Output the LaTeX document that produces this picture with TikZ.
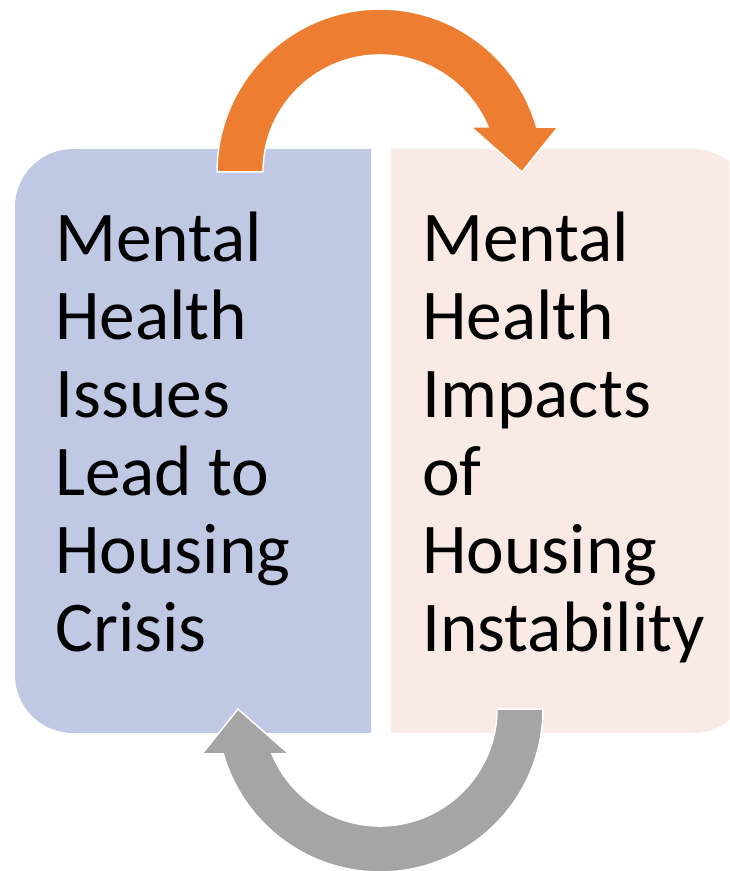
\documentclass[tikz,border=0pt]{standalone}
\usepackage{fontspec}
\setmainfont{Carlito}
\usepackage{tikz}

\definecolor{lboxcol}{HTML}{C0C9E4}
\definecolor{rboxcol}{HTML}{FAEAE5}
\definecolor{orangearr}{HTML}{ED7D31}
\definecolor{grayarr}{HTML}{A5A5A5}

\tikzset{
  boxtext/.style={anchor=base west, align=left, inner sep=0pt,
    font=\fontsize{71.4}{78}\selectfont},
  arrshape/.style={draw=white, line width=1.5pt}
}

\begin{document}
\begin{tikzpicture} [x=1pt, y=1pt]

\useasboundingbox (0,0) rectangle (729,871);
\clip (0,0) rectangle (729,871);

\fill [lboxcol] (371,138) -- (73,138) arc[start angle=270, end angle=180, radius=58]
  -- (15,664) arc[start angle=180, end angle=90, radius=58] -- (371,722) -- cycle;
\fill [rboxcol] (391,138) -- (693,138) arc[start angle=-90, end angle=0, radius=58]
  -- (751,664) arc[start angle=0, end angle=90, radius=58] -- (391,722) -- cycle;

% base anchor sits on the last line
\node [boxtext] (ltext) at (55,219) {Mental\\Health\\Issues\\Lead to\\Housing\\Crisis};
\node [boxtext] (rtext) at (422,219) {Mental\\Health\\Impacts\\of\\Housing\\Instability};

\fill [orangearr, arrshape] (217,699) arc[start angle=180, end angle=16, radius=163]
  -- (558,744) -- (522,699) -- (471,744) -- (488,744)
  arc[start angle=22.6, end angle=180, radius=117] -- cycle;

\fill [grayarr, arrshape] (543,162) arc[start angle=0, end angle=-164, radius=163]
  -- (202,117) -- (238,162) -- (289,117) -- (272,117)
  arc[start angle=-157.4, end angle=0, radius=117] -- cycle;

\end{tikzpicture}
\end{document}
